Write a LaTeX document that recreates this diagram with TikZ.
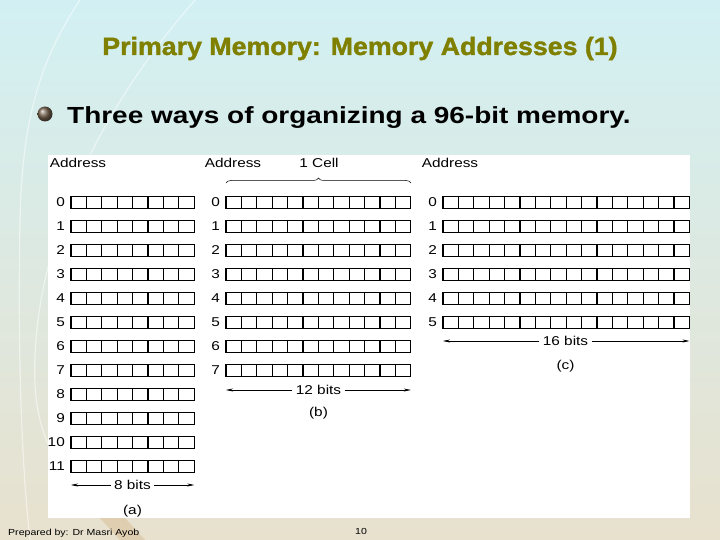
\documentclass[tikz,border=0pt]{standalone}
\usepackage{fontspec}
\setmainfont{Liberation Sans}[FakeStretch=1.2]
\newfontfamily\titlefont{Liberation Sans}[FakeStretch=1.07, BoldFeatures={FakeBold=1.5}]
\usepackage{xcolor}
\usetikzlibrary{arrows.meta,positioning,decorations.pathreplacing,shadings}

\definecolor{titleolive}{RGB}{128,128,0}
\definecolor{slidebeige}{RGB}{232,225,206}
\definecolor{slidecyan}{RGB}{210,240,243}
\definecolor{bulletbrown}{RGB}{120,100,80}

\begin{document}
\begin{tikzpicture}[
    x=1pt, y=-1pt,
    font=\fontsize{12.8}{15}\selectfont,
    cell/.style={draw, line width=1.1pt, minimum width=15.4pt, minimum height=12.5pt, inner sep=0pt, outer sep=0pt},
    addr/.style={inner sep=0pt},
    bitarr/.style={-{Stealth[length=7pt,width=3pt]}, line width=0.5pt},
    swoosh/.style={white, line width=1.2pt, opacity=0.5}
]
\useasboundingbox (0,0) rectangle (720,540);
\shade[top color=slidecyan, middle color=white, bottom color=slidebeige] (0,0) rectangle (720,540);
\draw[swoosh] (80,0) .. controls (40,60) and (22,120) .. (20,220) .. controls (18,330) and (20,450) .. (30,540);
\draw[swoosh] (195,0) .. controls (90,120) and (30,260) .. (35,385) .. controls (37,420) and (45,440) .. (60,470);
\fill[slidebeige!80!brown] (100,518) -- (125,518) -- (145,540) -- (120,540) -- cycle;
\fill[white] (48,155) rectangle (690,518);

\node[anchor=base, titleolive, font=\titlefont\fontsize{25}{30}\selectfont\bfseries] (title) at (360,55) {Primary Memory: Memory Addresses (1)};
\node[circle, minimum size=15pt, inner sep=0pt, shade, ball color=bulletbrown] (bullet) at (45,114) {};
\node[anchor=base west, inner sep=0pt, font=\fontsize{23.3}{28}\selectfont\bfseries] (lead) at (67,124) {Three ways of organizing a 96-bit memory.};

% (a) 12 x 8 bits
\foreach \r in {0,...,11} {
  \foreach \c in {1,...,8}
    \node[cell] (a-\r-\c) at ({71+15.4*(\c-0.5)}, {202.5+24*\r}) {};
  \node[addr, left=6pt of a-\r-1] (a-num-\r) {\r};
}
% (b) 8 x 12 bits
\foreach \r in {0,...,7} {
  \foreach \c in {1,...,12}
    \node[cell] (b-\r-\c) at ({226+15.4*(\c-0.5)}, {202.5+24*\r}) {};
  \node[addr, left=6pt of b-\r-1] (b-num-\r) {\r};
}
% (c) 6 x 16 bits
\foreach \r in {0,...,5} {
  \foreach \c in {1,...,16}
    \node[cell] (c-\r-\c) at ({443+15.4*(\c-0.5)}, {202.5+24*\r}) {};
  \node[addr, left=6pt of c-\r-1] (c-num-\r) {\r};
}

\node (a-head) at (78,163) {Address};
\node (b-head) at (233,163) {Address};
\node (b-cell) at (319,163) {1 Cell};
\node (c-head) at (450,163) {Address};

\coordinate (brace-l) at (226,183);
\coordinate (brace-r) at (411,183);
\draw[decorate, decoration={brace, amplitude=5pt}, line width=0.5pt] (brace-l) -- (brace-r);

\node (a-bits) at (132.5,485) {8 bits};
\draw[bitarr] (a-bits) -- (a-11-1.west |- a-bits);
\draw[bitarr] (a-bits) -- (a-11-8.east |- a-bits);
\node (a-cap) at (132.5,511) {(a)};

\node (b-bits) at (318.5,390) {12 bits};
\draw[bitarr] (b-bits) -- (b-7-1.west |- b-bits);
\draw[bitarr] (b-bits) -- (b-7-12.east |- b-bits);
\node (b-cap) at (318.5,413) {(b)};

\node (c-bits) at (565.5,341) {16 bits};
\draw[bitarr] (c-bits) -- (c-5-1.west |- c-bits);
\draw[bitarr] (c-bits) -- (c-5-16.east |- c-bits);
\node (c-cap) at (565.5,366) {(c)};

\node[anchor=base west, inner sep=0pt, font=\fontsize{8.8}{11}\selectfont] (footer) at (8,535) {Prepared by: Dr Masri Ayob};
\node[font=\fontsize{8.8}{11}\selectfont] (page-no) at (361,531) {10};
\end{tikzpicture}
\end{document}
